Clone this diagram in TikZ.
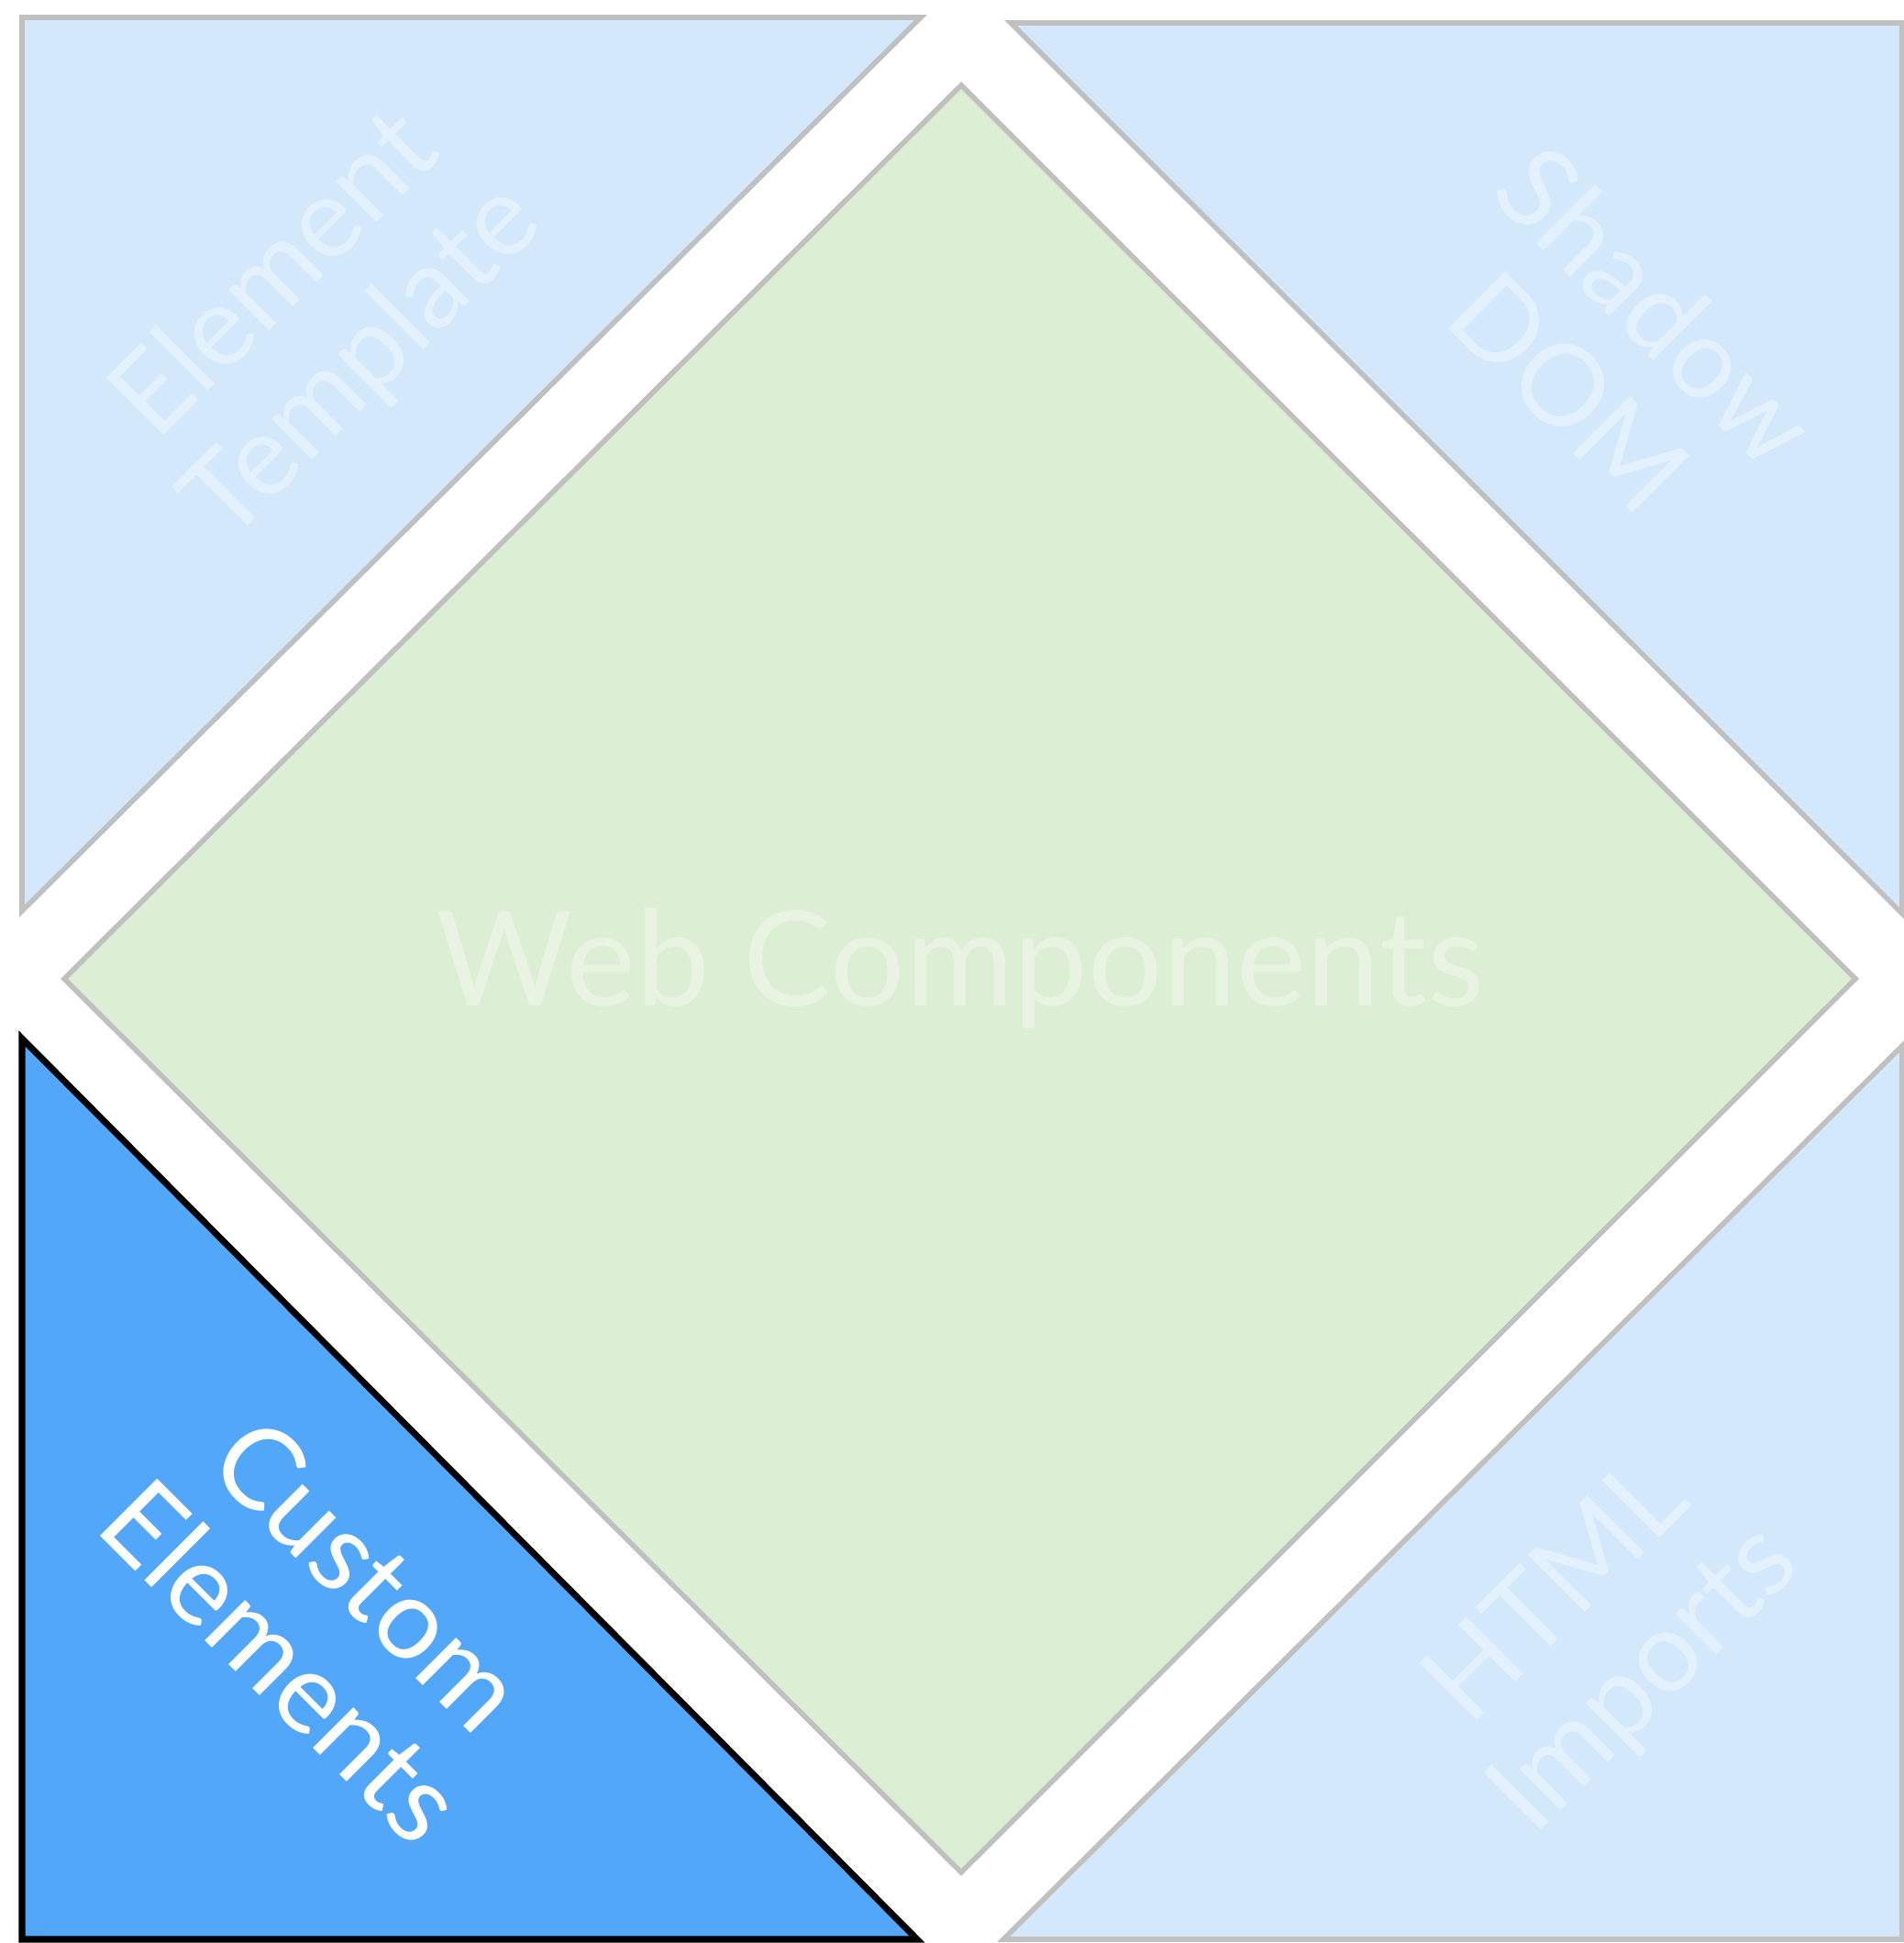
\documentclass[tikz,border=0pt]{standalone}
\usepackage{fontspec}
\setmainfont{Lato}
\usetikzlibrary{positioning}
\definecolor{paleblue}{HTML}{D4E8FC}
\definecolor{palegreen}{HTML}{DCEED3}
\definecolor{deepblue}{HTML}{52A7F9}
\definecolor{edgegray}{HTML}{C0C0C0}

\begin{document}
\begin{tikzpicture}[
    piece/.style={draw=edgegray, fill=paleblue, line width=1.6pt, line join=miter},
    active/.style={draw=black, fill=deepblue, line width=2pt, line join=miter},
    fadedlbl/.style={text=white, text opacity=0.35, align=center, font=\fontsize{35}{38}\selectfont},
    activelbl/.style={text=white, align=center, font=\fontsize{35}{38}\selectfont}
]
\useasboundingbox (0,0) rectangle (20.76,21.18);

% Center diamond
\draw[piece, fill=palegreen] (10.48,20.25) -- (20.23,10.51) -- (10.48,0.77) -- (0.70,10.51) -- cycle;
\node[fadedlbl, font=\fontsize{41}{44}\selectfont] (web) at (10.47,10.62) {Web Components};

% Top left triangle
\draw[piece] (0.24,20.99) -- (10.04,20.99) -- (0.24,11.25) -- cycle;
\node[fadedlbl, rotate=45] (tmpl) at (3.50,17.69) {Element\\Template};

% Top right triangle
\draw[piece] (11.02,20.93) -- (20.74,20.93) -- (20.74,11.22) -- cycle;
\node[fadedlbl, rotate=-45] (shadow) at (17.59,17.38) {Shadow\\DOM};

% Bottom left triangle (highlighted)
\draw[active] (0.24,9.86) -- (10.00,0.04) -- (0.24,0.04) -- cycle;
\node[activelbl, rotate=-45] (custom) at (3.55,3.55) {Custom\\Elements};

% Bottom right triangle
\draw[piece] (20.74,9.78) -- (20.74,0.04) -- (10.94,0.04) -- cycle;
\node[fadedlbl, rotate=45] (imports) at (17.48,3.33) {HTML\\Imports};

\end{tikzpicture}
\end{document}
